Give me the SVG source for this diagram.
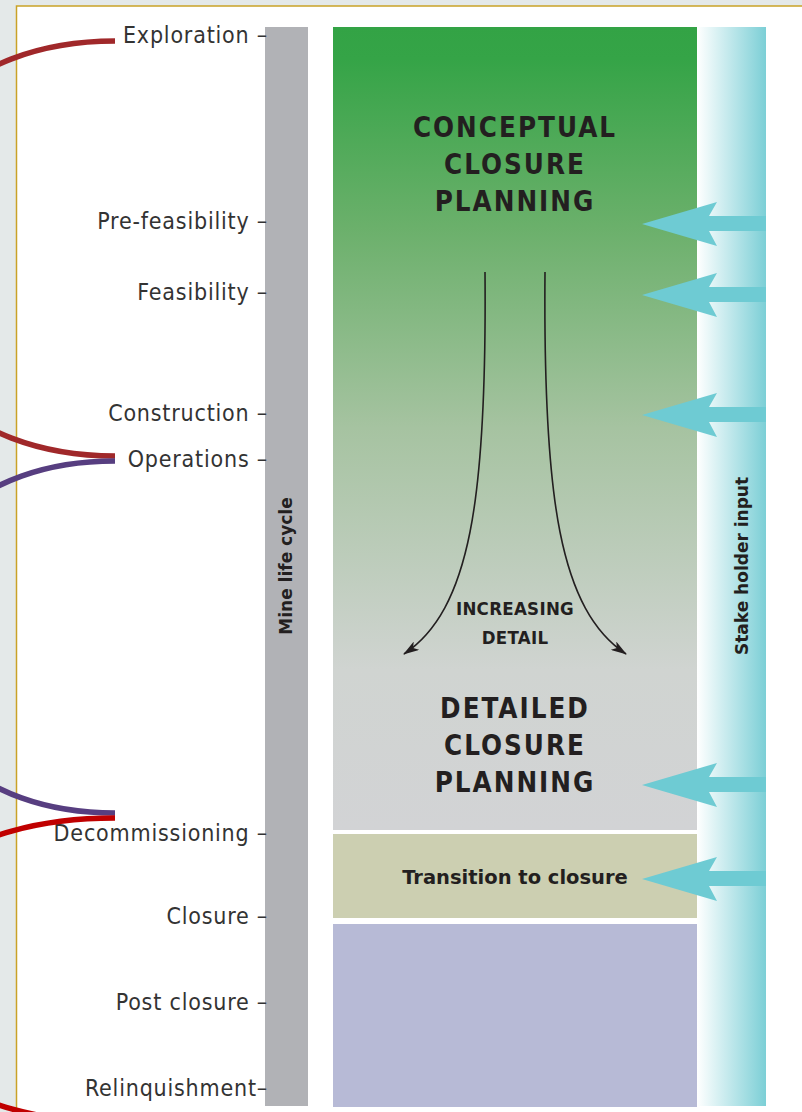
<svg xmlns="http://www.w3.org/2000/svg" width="802" height="1112" viewBox="0 0 802 1112">
<defs>
<style>
.lbl{font-family:"DejaVu Sans Condensed","DejaVu Sans",sans-serif;font-size:23px;fill:#333333;text-anchor:end;letter-spacing:0.8px}
.ttl{font-family:"DejaVu Sans Condensed","DejaVu Sans",sans-serif;font-weight:bold;font-size:27.5px;fill:#231f20;text-anchor:middle;letter-spacing:2px}
.sm{font-family:"DejaVu Sans Condensed","DejaVu Sans",sans-serif;font-weight:bold;font-size:18.5px;fill:#231f20;text-anchor:middle;letter-spacing:0.3px}
.vt{font-family:"DejaVu Sans","Liberation Sans",sans-serif;font-weight:bold;font-size:17px;fill:#231f20;text-anchor:middle}
.tr{font-family:"DejaVu Sans","Liberation Sans",sans-serif;font-weight:bold;font-size:19.5px;fill:#231f20;text-anchor:middle}
.arc{fill:none;stroke-width:5.5}
.sh{fill:#6ecbd3}
.det{fill:none;stroke:#231f20;stroke-width:1.6}
</style>
<linearGradient id="gGreen" x1="0" y1="0" x2="0" y2="1">
<stop offset="0" stop-color="#33a345"/>
<stop offset="0.04" stop-color="#35a447"/>
<stop offset="0.25" stop-color="#6bb06b"/>
<stop offset="0.5" stop-color="#a6c3a1"/>
<stop offset="0.8" stop-color="#d0d4d1"/>
<stop offset="1" stop-color="#d2d3d5"/>
</linearGradient>
<linearGradient id="gCyan" x1="0" y1="0" x2="1" y2="0">
<stop offset="0" stop-color="#ffffff"/>
<stop offset="1" stop-color="#7ccfd6"/>
</linearGradient>
<marker id="ah" viewBox="0 0 16 10" refX="15" refY="5" markerWidth="16" markerHeight="10" markerUnits="userSpaceOnUse" orient="auto">
<path d="M0,0 L16,5 L0,10 L4,5 Z" fill="#231f20"/>
</marker>
<polygon id="sarrow" class="sh" points="0,0 75,-22 67,-8 124,-8 124,7 67,7 75,22"/>
</defs>
<rect x="0" y="0" width="802" height="1112" fill="#e4e9e9"/>
<rect x="16.5" y="6" width="800" height="1120" fill="#ffffff" stroke="#c9a227" stroke-width="1.5"/>

<g id="lifecycle-bar">
<rect x="265" y="27" width="43" height="1079" fill="#b1b2b6"/>
<text class="vt" transform="translate(292,566) rotate(-90)">Mine life cycle</text>
</g>

<g id="stakeholder-bar">
<rect x="697" y="27" width="69" height="1079" fill="url(#gCyan)"/>
<text class="vt" transform="translate(748,566) rotate(-90)">Stake holder input</text>
</g>

<g id="planning-box">
<rect x="333" y="27" width="364" height="803" fill="url(#gGreen)"/>
<text class="ttl" x="515" y="137">CONCEPTUAL</text>
<text class="ttl" x="515" y="174">CLOSURE</text>
<text class="ttl" x="515" y="211">PLANNING</text>
<text class="sm" x="515" y="615">INCREASING</text>
<text class="sm" x="515" y="644">DETAIL</text>
<text class="ttl" x="515" y="718">DETAILED</text>
<text class="ttl" x="515" y="755">CLOSURE</text>
<text class="ttl" x="515" y="792">PLANNING</text>
</g>

<g id="transition-box">
<rect x="333" y="834" width="364" height="84" fill="#cccfb1"/>
<text class="tr" x="515" y="884">Transition to closure</text>
</g>

<g id="post-box">
<rect x="333" y="924" width="364" height="183" fill="#b7bad6"/>
</g>

<g id="labels">
<text class="lbl" x="268" y="43">Exploration –</text>
<text class="lbl" x="268" y="229">Pre-feasibility –</text>
<text class="lbl" x="268" y="300">Feasibility –</text>
<text class="lbl" x="268" y="421">Construction –</text>
<text class="lbl" x="268" y="467">Operations –</text>
<text class="lbl" x="268" y="841">Decommissioning –</text>
<text class="lbl" x="268" y="924">Closure –</text>
<text class="lbl" x="268" y="1010">Post closure –</text>
<text class="lbl" x="268" y="1096">Relinquishment–</text>
</g>

<g id="connectors">
<path class="det" d="M485,272 C487,500 470,610 404,654" marker-end="url(#ah)"/>
<path class="det" d="M545,272 C543,500 560,610 626,654" marker-end="url(#ah)"/>
<use href="#sarrow" x="642" y="224"/>
<use href="#sarrow" x="642" y="295"/>
<use href="#sarrow" x="642" y="415"/>
<use href="#sarrow" x="642" y="785"/>
<use href="#sarrow" x="642" y="879"/>
<path class="arc" stroke="#a0282a" d="M115,41 C-200,41 -200,456 115,456"/>
<path class="arc" stroke="#573e80" d="M115,461 C-170,461 -170,813 115,813"/>
<path class="arc" stroke="#c00000" d="M115,818 C-200,818 -200,1122 115,1122"/>
</g>
</svg>
